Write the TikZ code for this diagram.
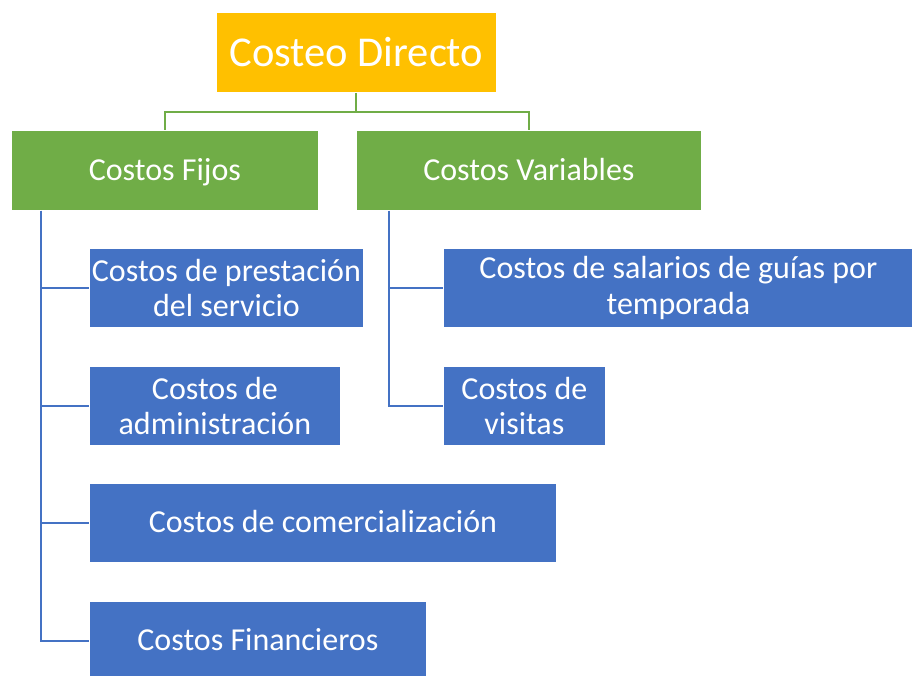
\documentclass[tikz,border=0pt]{standalone}
\usepackage{fontspec}
\setmainfont{Carlito}
\usepackage{tikz}
\usetikzlibrary{positioning,calc}

\definecolor{cdorange}{HTML}{FFC000}
\definecolor{cdgreen}{HTML}{70AD47}
\definecolor{cdblue}{HTML}{4472C4}

\begin{document}
\begin{tikzpicture}[x=1pt,y=-1pt,
  box/.style={anchor=north west,inner sep=0pt,align=center,text=white,
    draw=white,line width=0.8pt,minimum height=80pt,
    font=\fontsize{32}{35.5}\selectfont},
  oneline/.style={text height=21pt,text depth=1pt},
  greenline/.style={draw=cdgreen,line width=2pt},
  blueline/.style={draw=cdblue,line width=2pt}]
\useasboundingbox (0,0) rectangle (912,675);
\node[box,fill=cdorange,minimum width=280pt,font=\fontsize{42.5}{46}\selectfont] (top) at (216,12) {Costeo Directo};
\node[box,oneline,fill=cdgreen,minimum width=307pt] (fijos) at (11,130) {Costos Fijos};
\node[box,oneline,fill=cdgreen,minimum width=345pt] (var) at (356,130) {Costos Variables};
\node[box,fill=cdblue,minimum width=274pt,minimum height=79pt] (pres) at (89,248) {Costos de prestación\\del servicio};
\node[box,fill=cdblue,minimum width=251pt,minimum height=79pt] (admin) at (89,366) {Costos de\\administración};
\node[box,oneline,fill=cdblue,minimum width=467pt,minimum height=79pt] (comer) at (89,483) {Costos de comercialización};
\node[box,oneline,fill=cdblue,minimum width=337pt,minimum height=79pt] (finan) at (89,601) {Costos Financieros};
\node[box,fill=cdblue,minimum width=470pt,minimum height=79pt] (sal) at (443,248) {Costos de salarios de guías por\\temporada};
\node[box,fill=cdblue,minimum width=162pt,minimum height=79pt] (vis) at (443,366) {Costos de\\visitas};
% green tree from the top box
\coordinate (split) at ($(top.south)+(0,19)$);
\draw[greenline] (top.south) -- (split) -| (fijos.north);
\draw[greenline] (split) -| (var.north);
% blue buses under the two groups
\coordinate (fijosbus) at ($(fijos.south west)+(30,0)$);
\coordinate (varbus) at ($(var.south west)+(33,0)$);
\foreach \b in {pres,admin,comer,finan}
  \draw[blueline] (fijosbus) |- (\b.west);
\foreach \b in {sal,vis}
  \draw[blueline] (varbus) |- (\b.west);
\end{tikzpicture}
\end{document}
